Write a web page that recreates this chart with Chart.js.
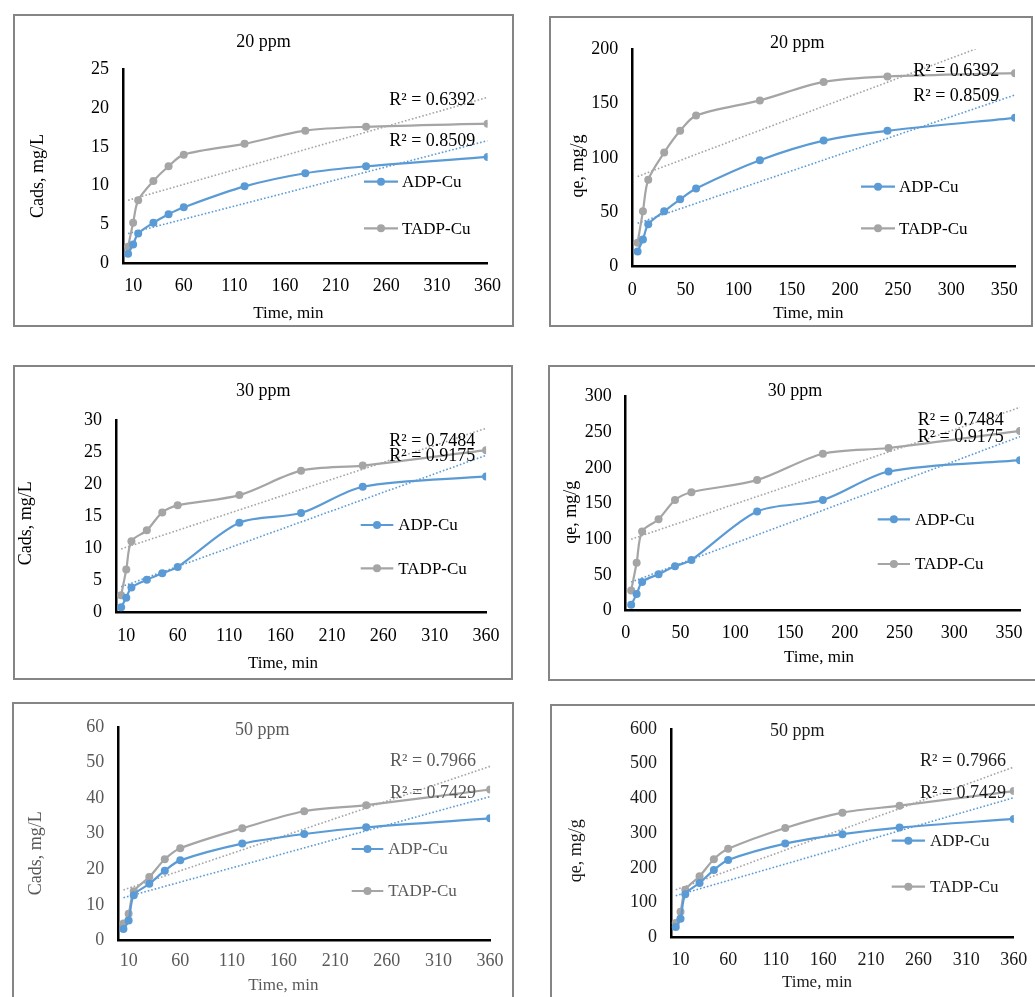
<!DOCTYPE html>
<html>
<head>
<meta charset="utf-8">
<script src="https://cdn.jsdelivr.net/npm/chart.js@4.4.0/dist/chart.umd.min.js"></script>
<style>
  body { margin: 0; background: #fff; width: 1035px; height: 997px; overflow: hidden; position: relative; }
  canvas, .frame { position: absolute; }
  .frame { border: 2px solid #858585; box-sizing: border-box; pointer-events: none; }
</style>
</head>
<body>
<script>
// sampling times, min
const times = [5, 10, 15, 30, 45, 60, 120, 180, 240, 360];
const trendTimes = [5, 360];
const ticksFrom10 = [10, 60, 110, 160, 210, 260, 310, 360];
const ticksFrom0 = [0, 50, 100, 150, 200, 250, 300, 350];

// Cads, mg/L and qe, mg/g
const cads20ADP = [1.2, 2.4, 3.8, 5.2, 6.3, 7.2, 9.9, 11.6, 12.5, 13.7];
const cads20TADP = [2.1, 5.2, 8.1, 10.6, 12.5, 14.0, 15.4, 17.1, 17.6, 18.0];
const qe20ADP = [14, 25, 39, 51, 62, 72, 98, 116, 125, 137];
const qe20TADP = [22, 51, 80, 105, 125, 139, 153, 170, 175, 178];
const cads30ADP = [0.8, 2.3, 3.9, 5.1, 6.1, 7.1, 14.0, 15.5, 19.6, 21.2];
const cads30TADP = [2.7, 6.7, 11.1, 12.8, 15.6, 16.7, 18.3, 22.1, 22.9, 25.3];
const qe30ADP = [8, 23, 40, 51, 62, 71, 139, 155, 195, 211];
const qe30TADP = [28, 67, 111, 128, 155, 166, 183, 220, 228, 252];
const cads50ADP = [3.2, 5.6, 12.7, 15.9, 19.6, 22.5, 27.2, 29.9, 31.8, 34.3];
const cads50TADP = [4.8, 7.5, 13.8, 17.8, 22.8, 25.9, 31.5, 36.3, 38.0, 42.4];
const qe50ADP = [30, 54, 124, 157, 194, 223, 270, 297, 316, 341];
const qe50TADP = [42, 74, 137, 176, 225, 255, 315, 359, 379, 421];

// linear trendline ends (t = 5 and t = 360)
const trendCads20ADP = [3.8, 15.8], trendCads20TADP = [8.1, 21.4];
const trendQe20ADP = [40, 158], trendQe20TADP = [83, 214];
const trendCads30ADP = [4.0, 24.5], trendCads30TADP = [9.9, 28.7];
const trendQe30ADP = [40, 244], trendQe30TADP = [100, 285];
const trendCads50ADP = [12.0, 40.4], trendCads50TADP = [14.2, 48.9];
const trendQe50ADP = [120, 402], trendQe50TADP = [137, 490];

// R² labels: TADP-Cu (top), ADP-Cu (bottom)
const r2At20 = ['R\u00b2 = 0.6392', 'R\u00b2 = 0.8509'];
const r2At30 = ['R\u00b2 = 0.7484', 'R\u00b2 = 0.9175'];
const r2At50 = ['R\u00b2 = 0.7966', 'R\u00b2 = 0.7429'];

const BLUE = '#5b9bd5';
const GREY = '#a5a5a5';
const FONT = '"Liberation Serif", "Times New Roman", serif';

Chart.defaults.font.family = FONT;
Chart.defaults.animation = false;

// page-coordinate layout of each framed panel
const panels = [
  { box: [13, 14, 501, 313], area: [123, 69.5, 491.5, 263], yMax: 25, yStep: 5, xTicks: ticksFrom10,
    adp: cads20ADP, tadp: cads20TADP, tAdp: trendCads20ADP, tTadp: trendCads20TADP, r2: r2At20,
    title: '20 ppm', yTitle: 'Cads, mg/L', titleAt: [263.5, 42.5], yTitleAt: [38.5, 176], xTitleAt: [288.3, 313.3],
    xLabelY: 286.7, legend: [364, 398, 402, 181.7, 228.3], r2Pos: [389.3, 100, 141], color: '#000' },
  { box: [549, 16, 484, 311], area: [632.3, 49.3, 1015, 266.7], yMax: 200, yStep: 50, xTicks: ticksFrom0,
    adp: qe20ADP, tadp: qe20TADP, tAdp: trendQe20ADP, tTadp: trendQe20TADP, r2: r2At20,
    title: '20 ppm', yTitle: 'qe, mg/g', titleAt: [797.3, 43.3], yTitleAt: [578.3, 166], xTitleAt: [808.3, 313.3],
    xLabelY: 290, legend: [861, 895, 899, 186.7, 228.3], r2Pos: [913.3, 71.7, 96.7], color: '#000' },
  { box: [13, 365, 500, 315], area: [116, 420, 490.7, 612.5], yMax: 30, yStep: 5, xTicks: ticksFrom10,
    adp: cads30ADP, tadp: cads30TADP, tAdp: trendCads30ADP, tTadp: trendCads30TADP, r2: r2At30,
    title: '30 ppm', yTitle: 'Cads, mg/L', titleAt: [263.3, 391.7], yTitleAt: [26.7, 523.3], xTitleAt: [283, 663.3],
    xLabelY: 636.7, legend: [360.7, 393.3, 398.3, 525, 568.3], r2Pos: [389.3, 441.7, 456.7], color: '#000' },
  { box: [548, 365, 489, 316], area: [625.7, 396.7, 1020, 610.5], yMax: 300, yStep: 50, xTicks: ticksFrom0,
    adp: qe30ADP, tadp: qe30TADP, tAdp: trendQe30ADP, tTadp: trendQe30TADP, r2: r2At30,
    title: '30 ppm', yTitle: 'qe, mg/g', titleAt: [795, 391.7], yTitleAt: [571, 512.3], xTitleAt: [819, 657.3],
    xLabelY: 633.3, legend: [877.7, 910, 915, 519.3, 564], r2Pos: [917.7, 420.7, 437.3], color: '#000' },
  { box: [12, 702, 502, 300], area: [118.3, 718.3, 492.3, 940.5], yMax: 60, yStep: 10, xTicks: ticksFrom10,
    adp: cads50ADP, tadp: cads50TADP, tAdp: trendCads50ADP, tTadp: trendCads50TADP, r2: r2At50,
    title: '50 ppm', yTitle: 'Cads, mg/L', titleAt: [262.2, 730], yTitleAt: [36.7, 853.3], xTitleAt: [283.3, 985.7],
    xLabelY: 961.7, legend: [351.7, 383.3, 388.3, 849, 891], r2Pos: [390, 761.7, 793.3], color: '#595959' },
  { box: [550, 704, 489, 300], area: [671, 720, 1020, 937.5], yMax: 600, yStep: 100, xTicks: ticksFrom10,
    adp: qe50ADP, tadp: qe50TADP, tAdp: trendQe50ADP, tTadp: trendQe50TADP, r2: r2At50,
    title: '50 ppm', yTitle: 'qe, mg/g', titleAt: [797.2, 731], yTitleAt: [576.7, 850.7], xTitleAt: [817, 982.3],
    xLabelY: 960, legend: [891.7, 925, 930, 840.7, 886.7], r2Pos: [920, 761.7, 793.3], color: '#1a1a1a' }
];

function pts(xs, ys) {
  return xs.map((x, i) => ({ x: x, y: ys[i] }));
}

// title, axis titles, R² labels and the in-plot legend
const panelText = {
  id: 'panelText',
  afterDraw(chart, args, o) {
    const ctx = chart.ctx;
    const ox = o.ox, oy = o.oy;
    ctx.save();
    ctx.fillStyle = o.color;
    ctx.textBaseline = 'middle';
    ctx.textAlign = 'center';
    ctx.font = '18px ' + FONT;
    ctx.fillText(o.title, o.titleAt[0] - ox, o.titleAt[1] - oy);
    ctx.font = '17px ' + FONT;
    ctx.fillText('Time, min', o.xTitleAt[0] - ox, o.xTitleAt[1] - oy);

    ctx.save();
    ctx.translate(o.yTitleAt[0] - ox, o.yTitleAt[1] - oy);
    ctx.rotate(-Math.PI / 2);
    ctx.font = '18px ' + FONT;
    ctx.fillText(o.yTitle, 0, 0);
    ctx.restore();

    ctx.textAlign = 'left';
    ctx.font = '18px ' + FONT;
    o.r2.forEach((t, i) => ctx.fillText(t, o.r2Pos[0] - ox, o.r2Pos[i + 1] - oy));

    const [x0, x1, tx, yA, yB] = o.legend;
    [['ADP-Cu', BLUE, yA], ['TADP-Cu', GREY, yB]].forEach(([name, col, y]) => {
      ctx.strokeStyle = col;
      ctx.lineWidth = 2.2;
      ctx.beginPath();
      ctx.moveTo(x0 - ox, y - oy);
      ctx.lineTo(x1 - ox, y - oy);
      ctx.stroke();
      ctx.fillStyle = col;
      ctx.beginPath();
      ctx.arc((x0 + x1) / 2 - ox, y - oy, 4, 0, Math.PI * 2);
      ctx.fill();
      ctx.fillStyle = o.color;
      ctx.font = '17px ' + FONT;
      ctx.fillText(name, tx - ox, y - oy + 1);
    });
    ctx.restore();
  }
};

panels.forEach(p => {
  const [bx, by, W, H] = p.box;
  const [l, t, r, b] = p.area;

  const canvas = document.createElement('canvas');
  canvas.width = W;
  canvas.height = H;
  canvas.style.left = bx + 'px';
  canvas.style.top = by + 'px';
  canvas.style.width = W + 'px';
  canvas.style.height = H + 'px';
  document.body.appendChild(canvas);

  const frame = document.createElement('div');
  frame.className = 'frame';
  frame.style.left = bx + 'px';
  frame.style.top = by + 'px';
  frame.style.width = W + 'px';
  frame.style.height = H + 'px';
  document.body.appendChild(frame);

  const series = (label, data, col) => ({
    label: label, data: data, borderColor: col, backgroundColor: col,
    borderWidth: 2.2, pointRadius: 4, pointBorderWidth: 0, pointBackgroundColor: col,
    tension: 0.3, cubicInterpolationMode: 'default', fill: false
  });
  const trend = (label, data, col) => ({
    label: label, data: data, borderColor: col, borderWidth: 1.6,
    borderDash: [1.6, 2], pointRadius: 0, tension: 0, fill: false
  });

  new Chart(canvas, {
    type: 'line',
    data: {
      datasets: [
        series('ADP-Cu', pts(times, p.adp), BLUE),
        series('TADP-Cu', pts(times, p.tadp), GREY),
        trend('ADP-Cu trend', pts(trendTimes, p.tAdp), BLUE),
        trend('TADP-Cu trend', pts(trendTimes, p.tTadp), GREY)
      ]
    },
    options: {
      responsive: false,
      devicePixelRatio: 1,
      animation: false,
      layout: { padding: { left: 0, top: t - by, right: W - (r - bx), bottom: 0 } },
      scales: {
        x: {
          type: 'linear', min: 0, max: 360,
          afterBuildTicks: s => { s.ticks = p.xTicks.map(v => ({ value: v })); },
          afterFit: s => { s.height = H - (b - by); },
          grid: { display: false, drawTicks: false },
          border: { display: true, color: '#000', width: 2.5 },
          ticks: {
            color: p.color, font: { size: 18 }, maxRotation: 0, autoSkip: false,
            padding: p.xLabelY - b - 10.8, callback: v => String(v)
          }
        },
        y: {
          type: 'linear', min: 0, max: p.yMax,
          afterFit: s => { s.width = l - bx; },
          grid: { display: false, drawTicks: false },
          border: { display: true, color: '#000', width: 2.5 },
          ticks: { stepSize: p.yStep, color: p.color, font: { size: 18 }, padding: 14, callback: v => String(v) }
        }
      },
      plugins: {
        legend: { display: false },
        tooltip: { enabled: false },
        panelText: {
          ox: bx, oy: by, color: p.color, title: p.title, yTitle: p.yTitle,
          titleAt: p.titleAt, yTitleAt: p.yTitleAt, xTitleAt: p.xTitleAt,
          r2: p.r2, r2Pos: p.r2Pos, legend: p.legend
        }
      }
    },
    plugins: [panelText]
  });
});
</script>
</body>
</html>
